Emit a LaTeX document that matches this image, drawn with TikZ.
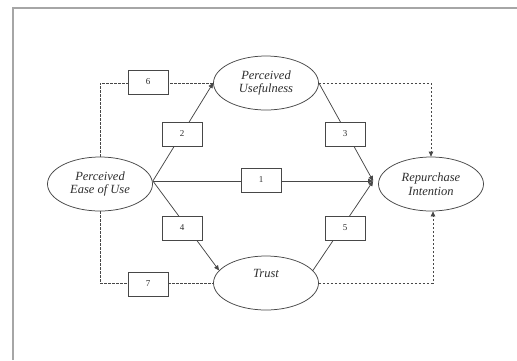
\documentclass[tikz,border=0pt]{standalone}
\usepackage{fontspec}
\setmainfont{Liberation Serif}
\usetikzlibrary{arrows.meta,shapes.geometric}
\definecolor{ln}{gray}{0.28}
\definecolor{tx}{gray}{0.18}
\tikzset{
  construct/.style={ellipse,draw=ln,line width=0.75pt,minimum width=105pt,minimum height=54pt,inner sep=0pt,align=center,text=tx,font=\fontsize{12.5}{13.5}\selectfont\itshape},
  numbox/.style={draw=ln,line width=0.75pt,fill=white,minimum width=40pt,minimum height=24pt,inner sep=0pt,text=tx,font=\fontsize{9}{10}\selectfont},
  solidline/.style={draw=ln,line width=0.75pt},
  arrowtip/.style={-{Triangle[length=5pt,width=4.5pt]}},
  dashline/.style={draw=ln,line width=0.75pt,dash pattern=on 2.5pt off 1.5pt}
}
\begin{document}
\begin{tikzpicture}[x=1pt,y=-1pt]
\useasboundingbox (0,0) rectangle (517,360);
\draw[gray!70,line width=1.3pt] (13,360) -- (13,8) -- (517,8);
\node[construct] (peu) at (100,184) {Perceived\\Ease of Use};
\node[construct] (pu) at (266,83) {Perceived\\Usefulness};
\node[construct] (ri) at (431,184) {Repurchase\\Intention};
\node[construct] (tr) at (266,283) {Trust\\[2pt]\strut};
\coordinate (src) at ([yshift=3pt]peu.east);
\coordinate (dst) at ([xshift=-5pt,yshift=3pt]ri.west);
% dashed paths
\draw[dashline] (peu.north) |- (pu.west);
\draw[dashline] (peu.south) |- (tr.west);
\draw[dashline,arrowtip] (pu.east) -| (ri.north);
\draw[dashline,arrowtip] (tr.east) -| ([xshift=2pt]ri.south);
% solid paths
\draw[solidline,arrowtip] (src) -- (dst);
\draw[solidline,arrowtip] (src) -- (pu.west);
\draw[solidline,arrowtip] (src) -- (tr.165);
\draw[solidline,arrowtip] (pu.east) -- (dst);
\draw[solidline,arrowtip] (tr.15) -- (dst);
% boxes
\node[numbox] (b1) at (261,180) {1};
\node[numbox] (b2) at (182,134) {2};
\node[numbox] (b3) at (345,134) {3};
\node[numbox] (b4) at (182,228) {4};
\node[numbox] (b5) at (345,228) {5};
\node[numbox] (b6) at (148,82) {6};
\node[numbox] (b7) at (148,284) {7};
\end{tikzpicture}
\end{document}
